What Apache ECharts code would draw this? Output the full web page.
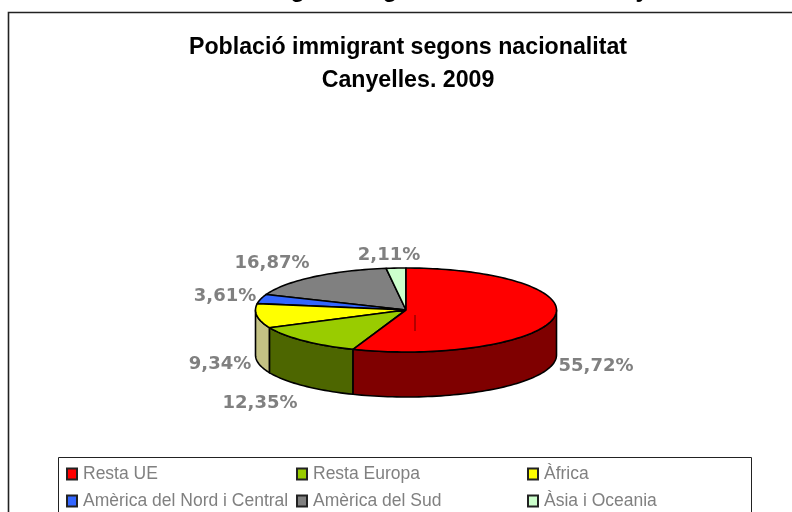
<!DOCTYPE html>
<html><head><meta charset="utf-8">
<style>html,body{margin:0;padding:0;background:#fff}#c{width:792px;height:512px}</style>
<script src="https://cdn.jsdelivr.net/npm/echarts@6/dist/echarts.min.js"></script>
</head><body><div id="c"></div>
<script>
const categories = ['Resta UE','Resta Europa','Àfrica','Amèrica del Nord i Central','Amèrica del Sud','Àsia i Oceania'];
const values = [55.72,12.35,9.34,3.61,16.87,2.11];
const topColors = ['#ff0000','#99cc00','#ffff00','#3366ff','#808080','#ccffcc'];
const wallColors = ['#7f0000','#4d6600','#c4c284','#19337f','#404040','#667f66'];

const CX=406, CY=310, RX=150.5, RY=42, DEPTH=45;
const LABEL_POS=[[596,366],[260,403],[220,364],[225,296],[272,263],[389,255]];
const total = values.reduce((a,b)=>a+b,0);
const px = t => CX+RX*Math.sin(t), py = t => CY-RY*Math.cos(t);
function arc(t0,t1,dy){const n=Math.max(2,Math.ceil((t1-t0)/0.03));const p=[];
  for(let i=0;i<=n;i++){const t=t0+(t1-t0)*i/n;p.push([px(t),py(t)+dy]);}return p;}
function renderSlice(idx){
  return function(){
    let acc=0;for(let i=0;i<idx;i++)acc+=values[i];
    const t0=acc/total*2*Math.PI,t1=(acc+values[idx])/total*2*Math.PI;
    const kids=[];
    const lo=Math.max(t0,Math.PI/2),hi=Math.min(t1,Math.PI*1.5);
    if(hi>lo){
      const a=arc(lo,hi,0),b=arc(lo,hi,DEPTH).reverse();
      kids.push({type:'polygon',shape:{points:a.concat(b)},style:{fill:wallColors[idx],stroke:'#000',lineWidth:1.6,lineJoin:'round'}});
    }
    kids.push({type:'polygon',shape:{points:[[CX,CY]].concat(arc(t0,t1,0))},
      style:{fill:topColors[idx],stroke:'#000',lineWidth:1.6,lineJoin:'round'}});
    if(idx===0) kids.push({type:'line',shape:{x1:415,y1:315,x2:415,y2:331},style:{stroke:'#000',lineWidth:0.6}});
    kids.push({type:'text',z2:50,style:{text:values[idx].toFixed(2).replace('.',',')+'%',
      x:LABEL_POS[idx][0],y:LABEL_POS[idx][1],align:'center',verticalAlign:'middle',
      fill:'#808080',font:'bold 18px "DejaVu Sans"'}});
    return {type:'group',children:kids};
  };
}
const order=[4,5,3,2,1,0];
const series=order.map(i=>({type:'custom',name:categories[i],coordinateSystem:'none',
  data:[values[i]],renderItem:renderSlice(i),silent:true,animation:false,
  itemStyle:{color:topColors[i],borderColor:'#222',borderWidth:1.5},z:order.indexOf(i)+2,clip:false}));
const legendCols=[[0,3,59],[1,4,289],[2,5,520]];
const legends=legendCols.map(c=>({orient:'vertical',left:c[2],top:465,itemGap:9,itemWidth:10,itemHeight:11,padding:[0,0,0,7],
  icon:'rect',data:[categories[c[0]],categories[c[1]]],selectedMode:false,
  textStyle:{fontFamily:'"Liberation Sans"',fontSize:17.5,color:'#808080',padding:[0,0,0,1]}}));
const chart=echarts.init(document.getElementById('c'),null,{renderer:'canvas'});
chart.setOption({animation:false,backgroundColor:'#fff',
  title:{text:'Població immigrant segons nacionalitat\nCanyelles. 2009',left:403,top:26,textAlign:'center',
    textStyle:{fontFamily:'"Liberation Sans"',fontWeight:'bold',fontSize:23.2,color:'#000',lineHeight:33}},
  legend:legends,series,
  graphic:[
    {type:'rect',z:0,shape:{x:8.5,y:12.5,width:800,height:600},style:{fill:'#fff',stroke:'#222',lineWidth:1.6}},
    {type:'rect',z:1,shape:{x:58.5,y:457.5,width:693,height:80},style:{fill:'#fff',stroke:'#222',lineWidth:1}},
    {type:'text',z:0,style:{text:'Població immigrant segons nacionalitat. Canyelles',x:130,y:-22,align:'left',verticalAlign:'top',
      fill:'#000',font:'bold 23.7px "Liberation Sans"'}}
  ]});
</script></body></html>
